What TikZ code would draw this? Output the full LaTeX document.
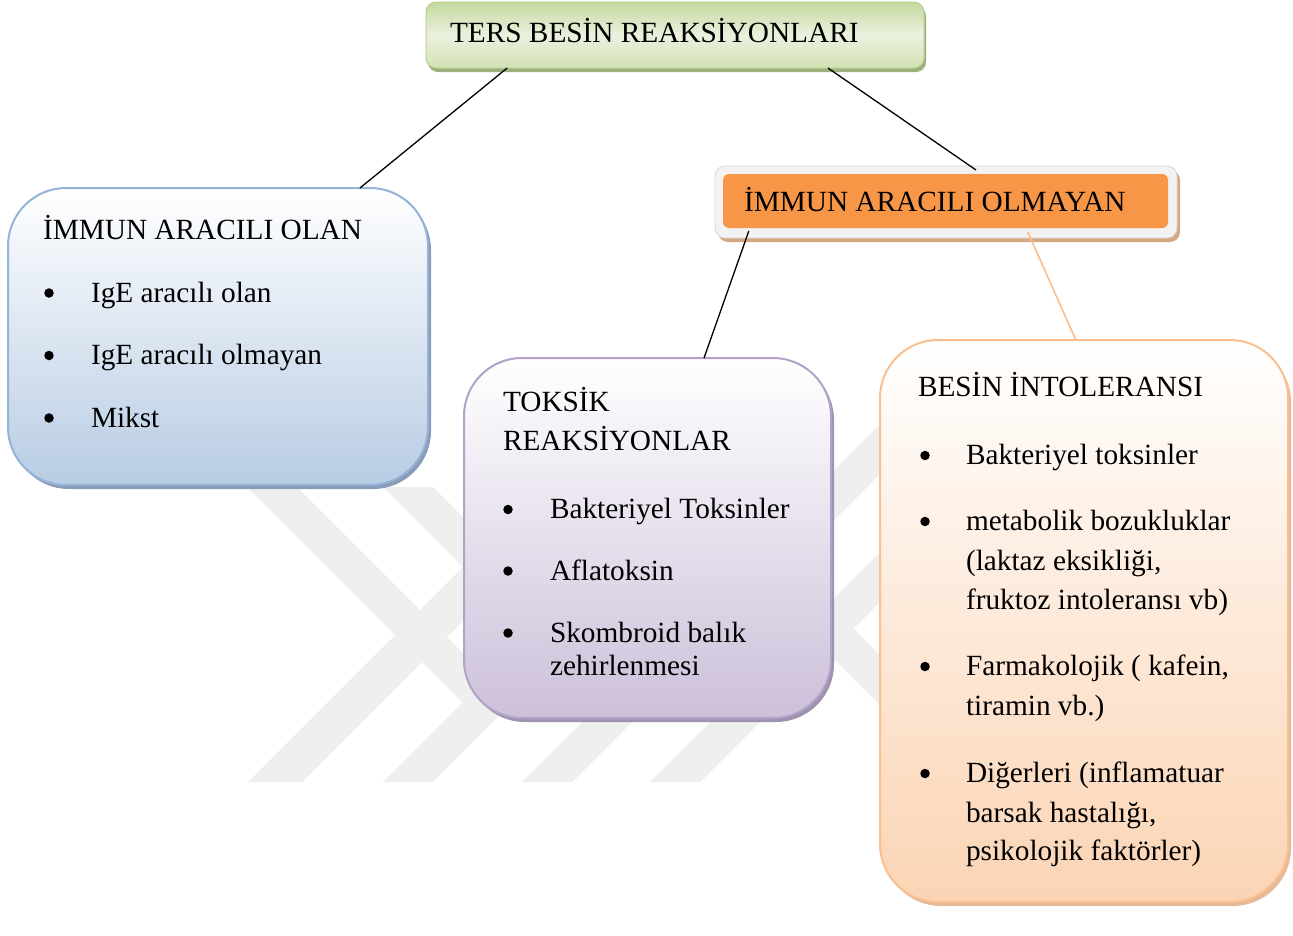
\documentclass[tikz,border=0pt]{standalone}
\usepackage{fontspec}
\setmainfont{Liberation Serif}
\usetikzlibrary{shadows,calc}
\definecolor{wm}{RGB}{239,239,239}
\definecolor{bluebd}{RGB}{149,179,215}
\definecolor{bluebot}{RGB}{184,204,228}
\definecolor{blueshd}{RGB}{137,156,184}
\definecolor{purbd}{RGB}{178,162,199}
\definecolor{purbot}{RGB}{204,192,218}
\definecolor{purshd}{RGB}{158,146,174}
\definecolor{orbd}{RGB}{250,192,144}
\definecolor{orbot}{RGB}{251,212,180}
\definecolor{orshd}{RGB}{228,186,152}
\definecolor{grtop}{RGB}{196,216,158}
\definecolor{grmid}{RGB}{235,241,223}
\definecolor{grbot}{RGB}{210,225,180}
\definecolor{grbd}{RGB}{186,207,145}
\definecolor{grshd}{RGB}{155,176,122}
\definecolor{framegray}{RGB}{242,242,242}
\definecolor{framebd}{RGB}{215,215,215}
\definecolor{tanshd}{RGB}{214,168,130}
\definecolor{orfill}{RGB}{247,150,70}
\definecolor{orline}{RGB}{249,188,140}
\tikzset{
  txt/.style={anchor=base west, inner sep=0pt, outer sep=0pt, font=\fontsize{29.3}{39.5}\selectfont},
  blt/.style={circle, fill=black, draw=none, minimum size=9.5pt, inner sep=0pt, outer sep=0pt},
  bigbox/.style={line width=2pt, rounded corners=58pt, top color=white, inner sep=0pt, outer sep=0pt},
  conn/.style={line width=1.3pt, black},
  wmband/.style={fill=wm, draw=none}
}
\begin{document}
\begin{tikzpicture}[x=1pt,y=-1pt]
\useasboundingbox (0,0) rectangle (1293,935);
\fill[white] (0,0) rectangle (1293,935);
% watermark
\fill[wmband] (247,487) -- (297,487) -- (525,715) -- (475,715) -- cycle;
\fill[wmband] (383,487) -- (433,487) -- (666,720) -- (616,720) -- cycle;
\fill[wmband] (248,782) -- (302,782) -- (597,487) -- (543,487) -- cycle;
\fill[wmband] (383,782) -- (433,782) -- (728,487) -- (678,487) -- cycle;
\fill[wmband] (522,782) -- (572,782) -- (954,400) -- (904,400) -- cycle;
\fill[wmband] (650,782) -- (700,782) -- (1082,400) -- (1032,400) -- cycle;
\fill[wmband] (755,580) -- (805,580) -- (985,760) -- (935,760) -- cycle;
% boxes
\node[draw=grbd, line width=1pt, rounded corners=10pt, top color=grtop, bottom color=grbot, middle color=grmid,
  minimum width=498pt, minimum height=66pt, inner sep=0pt, outer sep=0pt,
  drop shadow={shadow xshift=2pt, shadow yshift=-4pt, fill=grshd, opacity=1}] (ters) at (675,35) {};
\node[draw=framebd, line width=0.8pt, fill=framegray, rounded corners=10pt,
  minimum width=462pt, minimum height=72pt, inner sep=0pt, outer sep=0pt,
  drop shadow={shadow xshift=3pt, shadow yshift=-4pt, fill=tanshd, opacity=1}] (olmayan) at (946,202) {};
\node[fill=orfill, rounded corners=6pt, minimum width=445pt, minimum height=54pt, inner sep=0pt, outer sep=0pt] (olmayanin) at (945.5,201) {};
\node[bigbox, draw=bluebd, bottom color=bluebot, minimum width=420pt, minimum height=297pt,
  drop shadow={shadow xshift=3pt, shadow yshift=-4pt, fill=blueshd, opacity=1}] (immun) at (218,336.5) {};
\node[bigbox, draw=purbd, bottom color=purbot, minimum width=367pt, minimum height=360pt,
  drop shadow={shadow xshift=3pt, shadow yshift=-4pt, fill=purshd, opacity=1}] (toksik) at (647.5,538) {};
\node[bigbox, draw=orbd, bottom color=orbot, minimum width=408pt, minimum height=562pt,
  drop shadow={shadow xshift=3pt, shadow yshift=-4pt, fill=orshd, opacity=1}] (intol) at (1084,621) {};
% connectors
\draw[conn] ($(ters.south west)!0.163!(ters.south east)$) -- ($(immun.north west)!0.838!(immun.north east)$);
\draw[conn] ($(ters.south west)!0.807!(ters.south east)$) -- ($(olmayan.north west)!0.565!(olmayan.north east)+(0,4)$);
\draw[conn] ($(olmayanin.south west)!0.058!(olmayanin.south east)+(0,3)$) -- ($(toksik.north west)!0.654!(toksik.north east)$);
\draw[line width=1.5pt, orline] ($(olmayanin.south west)!0.685!(olmayanin.south east)+(0,4)$) -- ($(intol.north west)!0.480!(intol.north east)$);
% texts
\node[txt] (t-ters) at (450,42.7) {TERS BESİN REAKSİYONLARI};
\node[txt] (t-olm) at (744,211.7) {İMMUN ARACILI OLMAYAN};
\node[txt] (t-imm) at (43,239.5) {İMMUN ARACILI OLAN};
\node[blt] (b1) at (49,293) {};
\node[blt] (b2) at (49,355.5) {};
\node[blt] (b3) at (49,418) {};
\node[txt] (i1) at (91,302) {IgE aracılı olan};
\node[txt] (i2) at (91,364.5) {IgE aracılı olmayan};
\node[txt] (i3) at (91,427) {Mikst};
\node[txt] (t-tok1) at (503,411.7) {TOKSİK};
\node[txt] (t-tok2) at (503,450) {REAKSİYONLAR};
\node[blt] (b4) at (508,509.5) {};
\node[blt] (b5) at (508,571) {};
\node[blt] (b6) at (508,633) {};
\node[txt] (i4) at (550,518.5) {Bakteriyel Toksinler};
\node[txt] (i5) at (550,580) {Aflatoksin};
\node[txt] (i6a) at (550,642) {Skombroid balık};
\node[txt] (i6b) at (550,675.5) {zehirlenmesi};
\node[txt] (t-int) at (918,396) {BESİN İNTOLERANSI};
\node[blt] (b7) at (925,455.5) {};
\node[blt] (b8) at (925,521.5) {};
\node[blt] (b9) at (925,666.5) {};
\node[blt] (b10) at (925,773.5) {};
\node[txt] (i7) at (966,464.5) {Bakteriyel toksinler};
\node[txt] (i8a) at (966,530.5) {metabolik bozukluklar};
\node[txt] (i8b) at (966,570.5) {(laktaz eksikliği,};
\node[txt] (i8c) at (966,609.5) {fruktoz intoleransı vb)};
\node[txt] (i9a) at (966,675.5) {Farmakolojik ( kafein,};
\node[txt] (i9b) at (966,715.5) {tiramin vb.)};
\node[txt] (i10a) at (966,782.5) {Diğerleri (inflamatuar};
\node[txt] (i10b) at (966,822.5) {barsak hastalığı,};
\node[txt] (i10c) at (966,860.5) {psikolojik faktörler)};
\end{tikzpicture}
\end{document}
